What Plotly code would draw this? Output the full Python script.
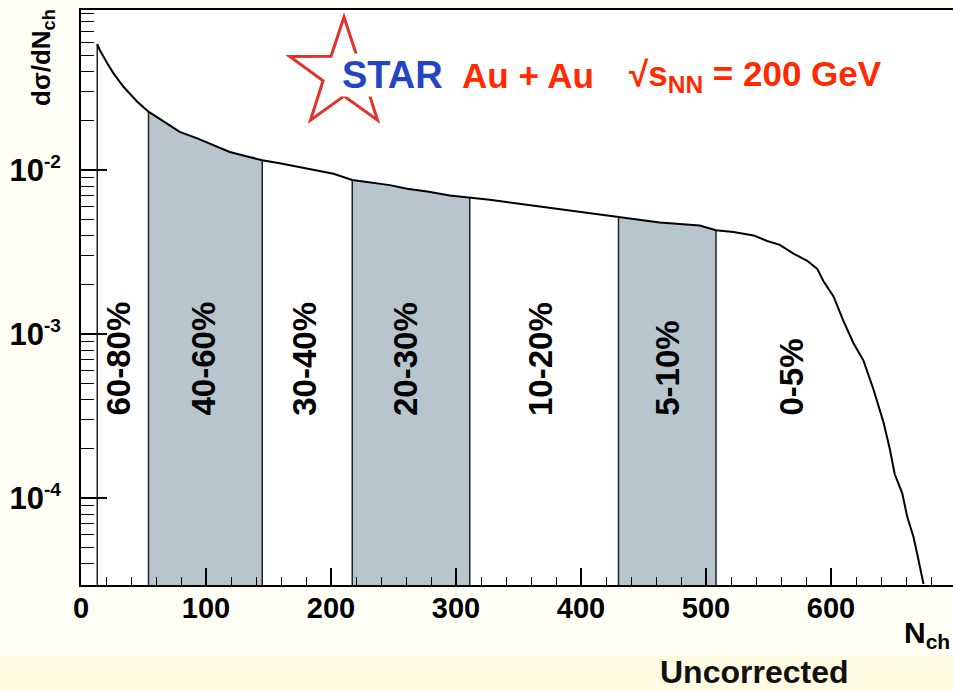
import numpy as np
import plotly.graph_objects as go

# Uncorrected charged-particle multiplicity distribution, Au+Au at 200 GeV
n_ch = [13, 15, 21, 26, 34, 45, 54, 66, 79, 93, 106, 119, 133, 145,
        159, 173, 186, 202, 217, 234, 247, 261, 277, 295, 311,
        327, 346, 367, 389, 410, 430, 447, 463, 479, 495, 508,
        522, 538, 549, 559, 570, 581, 589, 594, 602, 610,
        618, 626, 634, 642, 647, 651, 657, 661, 666, 670, 674]
dsigma_dn = [0.0586, 0.0540, 0.0448, 0.0389, 0.0322, 0.0261, 0.0227,
             0.0197, 0.0171, 0.0156, 0.0142, 0.0129, 0.0121, 0.0115,
             0.0110, 0.0105, 0.0100, 0.0095, 0.0087,
             0.0084, 0.0081, 0.0077, 0.0074, 0.0070, 0.0068,
             0.0066, 0.0063, 0.0060, 0.0057, 0.0054, 0.0052,
             0.0050, 0.0048, 0.0047, 0.0046, 0.0043,
             0.0042, 0.0040, 0.0037, 0.0035, 0.0031, 0.0028, 0.0025, 0.0021, 0.0017, 0.0012,
             0.00088, 0.00069, 0.00046, 0.00029, 0.00020, 0.00014, 0.000107,
             7.7e-5, 5.8e-5, 4.2e-5, 3.0e-5]

# centrality class boundaries (N_ch) and their labels
cent_edges = [13, 54, 145, 217, 311, 430, 508]
cent_labels = ["60-80%", "40-60%", "30-40%", "20-30%", "10-20%", "5-10%", "0-5%"]
shaded_bands = [(54, 145), (217, 311), (430, 508)]

x_tick_vals = [0, 100, 200, 300, 400, 500, 600]
y_tick_vals = [1e-4, 1e-3, 1e-2]
y_exponents = ["-4", "-3", "-2"]

# ---- page geometry -------------------------------------------------------
W, H = 953, 691
L, R, T, B = 81, 0, 10, 106
Y_LO, Y_HI = -4.529, -1.024
X_HI = (W - L - R) / 1.25


def px(x):
    return (x - L) / (W - L - R)


def py(y):
    return (H - B - y) / (H - T - B)


floor_val = 10 ** (Y_LO - 0.5)
curve = dict(zip(n_ch, dsigma_dn))

BAND_FILL = "#b7c6cd"
FONT = "Liberation Sans"

fig = go.Figure()

# shaded centrality bands, filled from the bottom up to the distribution
for lo, hi in shaded_bands:
    xs = [lo] + [n for n in n_ch if lo <= n <= hi] + [hi]
    ys = [floor_val] + [curve[n] for n in n_ch if lo <= n <= hi] + [floor_val]
    fig.add_trace(go.Scatter(x=xs, y=ys, mode="lines", fill="toself",
                             fillcolor=BAND_FILL, line=dict(width=0),
                             hoverinfo="skip", showlegend=False))

# vertical separators between centrality classes
vx, vy = [], []
for e in cent_edges:
    vx += [e, e, None]
    vy += [floor_val, curve[e], None]
fig.add_trace(go.Scatter(x=vx, y=vy, mode="lines",
                         line=dict(color="#222222", width=1.5),
                         hoverinfo="skip", showlegend=False))

# the distribution itself
fig.add_trace(go.Scatter(x=n_ch, y=dsigma_dn, mode="lines",
                         line=dict(color="black", width=2),
                         showlegend=False))

# centrality labels, rotated
label_x = [30, 98, 179, 260, 368, 469, 568]
annotations = []
for lx, txt in zip(label_x, cent_labels):
    annotations.append(dict(x=lx, xref="x", y=py(418), yref="paper",
                            text=txt, textangle=-90, showarrow=False,
                            xanchor="center", yanchor="bottom",
                            font=dict(family=FONT, size=33, color="black", weight="bold")))

# axis titles
annotations.append(dict(x=px(42), y=py(58), xref="paper", yref="paper",
                        text="d\u03c3/dN<sub>ch</sub>", textangle=-90, showarrow=False,
                        xanchor="center", yanchor="middle",
                        font=dict(family=FONT, size=26, color="black", weight="bold")))
annotations.append(dict(x=px(927), y=py(634), xref="paper", yref="paper",
                        text="N<sub>ch</sub>", showarrow=False,
                        xanchor="center", yanchor="middle",
                        font=dict(family=FONT, size=30, color="black", weight="bold")))

# experiment / system label
annotations.append(dict(x=px(392), y=py(75), xref="paper", yref="paper",
                        text="STAR", showarrow=False, xanchor="center", yanchor="middle",
                        bgcolor="white", borderpad=0,
                        font=dict(family=FONT, size=38, color="#2444c6", weight="bold")))
annotations.append(dict(x=px(460), y=py(76), xref="paper", yref="paper",
                        text="Au + Au", showarrow=False, xanchor="left", yanchor="middle",
                        font=dict(family=FONT, size=35, color="#ff2a00", weight="bold")))
annotations.append(dict(x=px(627), y=py(76), xref="paper", yref="paper",
                        text="\u221as<sub>NN</sub> = 200 GeV", showarrow=False,
                        xanchor="left", yanchor="middle",
                        font=dict(family=FONT, size=35, color="#ff2a00", weight="bold")))
annotations.append(dict(x=px(754), y=py(672), xref="paper", yref="paper",
                        text="Uncorrected", showarrow=False, xanchor="center", yanchor="middle",
                        font=dict(family=FONT, size=32, color="#111111", weight="bold")))

# star outline of the logo
cx, cy, r_out, r_in = 344, 74, 57, 22
pts = []
for k in range(10):
    ang = np.pi / 2 + k * np.pi / 5
    rr = r_out if k % 2 == 0 else r_in
    pts.append((cx + rr * np.cos(ang), cy - rr * np.sin(ang)))
path = "M " + " L ".join(f"{px(a):.5f},{py(b):.5f}" for a, b in pts) + " Z"

shapes = [
    dict(type="rect", xref="paper", yref="paper", x0=px(0), x1=px(W), y0=py(H), y1=py(655),
         fillcolor="#fdfbe2", line=dict(width=0), layer="below"),
    dict(type="path", xref="paper", yref="paper", path=path,
         line=dict(color="#e2322a", width=3), layer="above"),
]

minor_y = [m * 10.0 ** k for k in range(-5, -1) for m in range(2, 10)]
y_tick_text = [f"10<sup><span style='font-size:19px'>{e}</span></sup>" for e in y_exponents]

fig.update_layout(
    width=W, height=H,
    margin=dict(l=L, r=R, t=T, b=B, pad=0),
    paper_bgcolor="#fffff6",
    plot_bgcolor="white",
    annotations=annotations,
    shapes=shapes,
    xaxis=dict(range=[0, X_HI], tickvals=x_tick_vals,
               ticks="inside", ticklen=17, tickwidth=1.5, tickcolor="black",
               minor=dict(dtick=20, tick0=0, ticks="inside", ticklen=8, tickwidth=1.2,
                          tickcolor="black", showgrid=False),
               showline=True, linecolor="black", linewidth=2, mirror=True,
               showgrid=False, zeroline=False, ticklabelstandoff=-4,
               tickfont=dict(family=FONT, size=29, color="black", weight="bold")),
    yaxis=dict(type="log", range=[Y_LO, Y_HI], tickvals=y_tick_vals, ticktext=y_tick_text,
               ticks="inside", ticklen=26, tickwidth=1.5, tickcolor="black",
               minor=dict(tickvals=minor_y, ticks="inside", ticklen=13, tickwidth=1.2,
                          tickcolor="black", showgrid=False),
               showline=True, linecolor="black", linewidth=2, mirror=False,
               showgrid=False, zeroline=False, ticklabelstandoff=12,
               tickfont=dict(family=FONT, size=31, color="black", weight="bold")),
)

fig.write_html("out.html")
